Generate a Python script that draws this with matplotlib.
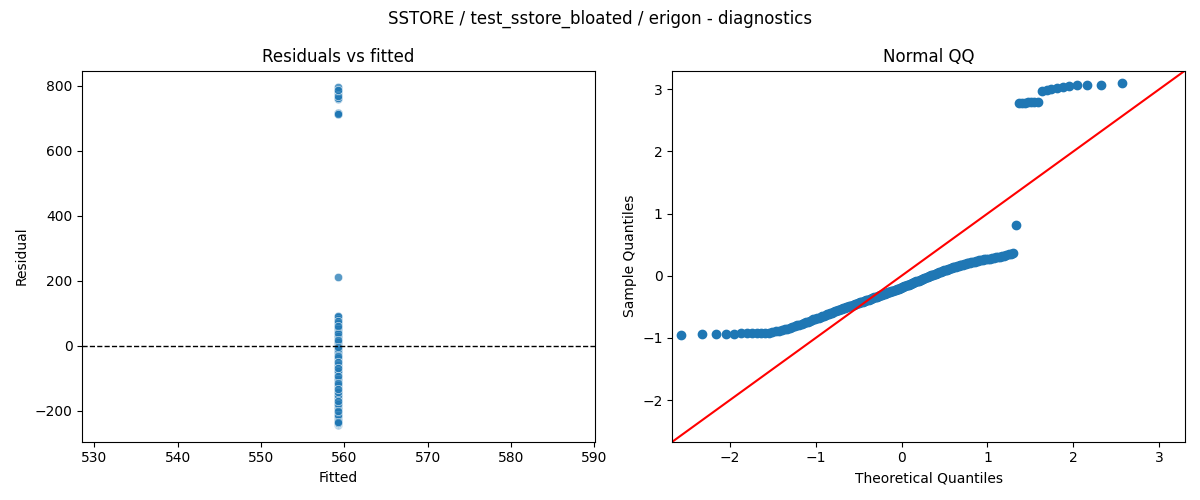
import statistics
import numpy as np
import matplotlib
matplotlib.use("Agg")
import matplotlib.pyplot as plt
import seaborn as sns

title = "SSTORE / test_sstore_bloated / erigon - diagnostics"

# residuals (sorted); fitted value is the same for every run
residuals = [
    -243, -241, -239, -238, -238, -237, -236, -236, -235, -235,
    -234, -234, -232, -229, -227, -224, -220, -218, -214, -211,
    -207, -204, -201, -198, -195, -192, -189, -186, -183, -180,
    -177, -175, -172, -169, -167, -164, -162, -159, -157, -155,
    -152, -150, -147, -145, -143, -141, -138, -136, -134, -132,
    -130, -128, -126, -125, -123, -121, -119, -117, -116, -114,
    -112, -110, -109, -107, -105, -103, -101, -100, -98, -96,
    -94, -93, -91, -89, -87, -86, -84, -82, -81, -79,
    -78, -76, -74, -72, -71, -69, -68, -66, -64, -62,
    -61, -59, -58, -56, -54, -53, -51, -49, -48, -46,
    -44, -42, -40, -38, -37, -35, -33, -31, -29, -27,
    -25, -23, -22, -20, -18, -16, -14, -12, -10, -8,
    -6, -5, -3, -1, 2, 3, 5, 7, 9, 11,
    13, 15, 17, 18, 20, 22, 24, 25, 27, 29,
    31, 33, 34, 36, 38, 40, 41, 44, 45, 46,
    48, 49, 51, 52, 54, 55, 57, 58, 60, 62,
    64, 65, 66, 67, 69, 70, 71, 73, 74, 76,
    77, 79, 81, 83, 85, 88, 90, 92,
    210,
    712, 712, 713, 714, 714, 716, 717,
    760, 763, 768, 773, 778, 783, 786, 786, 786, 794,
]
fitted = [559.3] * len(residuals)
resid_sd = 256.0  # scale of the standardised residuals in the QQ panel

resid = np.array(residuals, dtype=float)
n = len(resid)
# runs were not recorded in sorted order: draw them interleaved
run_order = [(i * 37) % n for i in range(n)]

sample_q = np.sort(resid / resid_sd)
nd = statistics.NormalDist()
theo_q = np.array([nd.inv_cdf(i / (n + 1)) for i in range(1, n + 1)])

fig, (ax1, ax2) = plt.subplots(1, 2, figsize=(12, 5), dpi=100)

# residuals vs fitted
sns.scatterplot(x=np.array(fitted)[run_order], y=resid[run_order], ax=ax1, alpha=0.75)
ax1.axhline(0, color="black", linestyle="--", linewidth=1)
ax1.set_title("Residuals vs fitted")
ax1.set_xlabel("Fitted")
ax1.set_ylabel("Residual")

# normal qq
ax2.plot(theo_q, sample_q, marker="o", linestyle="none",
         markerfacecolor="C0", markeredgecolor="C0")
lims = [-2.67, 3.30]
ax2.plot(lims, lims, "r-")
ax2.set_xlim(lims)
ax2.set_ylim(lims)
ax2.set_title("Normal QQ")
ax2.set_xlabel("Theoretical Quantiles")
ax2.set_ylabel("Sample Quantiles")

fig.suptitle(title)
fig.tight_layout()
fig.savefig("out.png")
